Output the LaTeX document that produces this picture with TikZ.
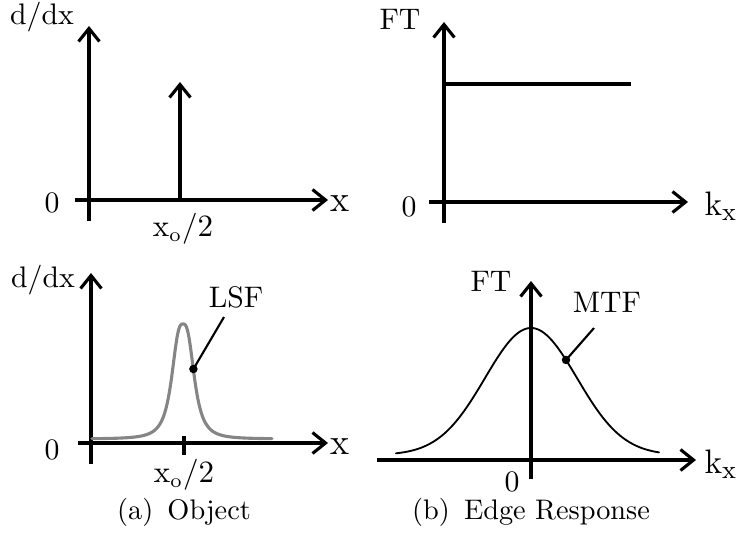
\documentclass[tikz,border=0pt]{standalone}
\usepackage{tikz}
\usetikzlibrary{arrows.meta,positioning}

\begin{document}
\begin{tikzpicture}[x=0.3533pt,y=-0.3533pt,
  font=\normalsize,
  axis/.style={line width=1.1pt,-{Straight Barb[length=4.6pt,width=7.4pt]}},
  tickline/.style={line width=1.1pt},
  lsf/.style={line width=1.1pt,black!48,line cap=round},
  mtf/.style={line width=0.65pt,line cap=round},
  leader/.style={line width=0.75pt},
  dot/.style={circle,fill,inner sep=0pt,minimum size=3pt},
  lab/.style={inner sep=1pt,font=\fontsize{10.5}{12}\selectfont},
  big/.style={inner sep=1pt,font=\fontsize{13}{15}\selectfont}]
\useasboundingbox (0,0) rectangle (738,534);
% ---------- (a) top: impulse ----------
\draw[axis] (89,221) -- (89,26);
\draw[axis] (75,200) -- (328,200);
\draw[axis] (180,200) -- (180,82);
\node[lab] (ddxA) at (42,17) {d/dx};
\node[lab] (zeroA) at (52,203) {0};
\node[big] (xA) at (340,204) {x};
\node[lab] (xoA) at (183,229) {$\mathrm{x_o/2}$};
% ---------- (b) top: flat spectrum ----------
\draw[axis] (444,223) -- (444,22);
\draw[axis] (429,202) -- (688,202);
\draw[tickline] (444,84) -- (631,84);
\node[lab] (ftB) at (400,19) {FT};
\node[lab] (zeroB) at (409,207) {0};
\node[big] (kB) at (721,206) {$\mathrm{k_x}$};
% ---------- (a) bottom: line spread function ----------
\draw[axis] (91,464) -- (91,273);
\draw[axis] (78,443) -- (328,443);
\draw[tickline] (184,436) -- (184,455);
\draw[lsf] plot[domain=92:272,samples=241,smooth]
  (\x,{439-115/(1+((abs(\x-183)+0.01)/12)^2.9)});
\coordinate (lsfpt) at (193.4,369);
\node[dot] (dotC) at (lsfpt) {};
\coordinate (tipC) at (224,317);
\draw[leader] (dotC.center) -- (tipC);
\node[lab] (lsfC) at (236,297) {LSF};
\node[lab] (ddxC) at (43,280) {d/dx};
\node[lab] (zeroC) at (52,450) {0};
\node[big] (xC) at (340,447) {x};
\node[lab] (xoC) at (184,475) {$\mathrm{x_o/2}$};
\node[inner sep=1pt] (capA) at (184,512) {(a)\enspace Object};
% ---------- (b) bottom: modulation transfer function ----------
\draw[axis] (531,479) -- (531,281);
\draw[axis] (377,460) -- (696,460);
\draw[mtf] plot[domain=396:659,samples=200,smooth]
  (\x,{455-127*exp(-((\x-531)/65)^2)});
\coordinate (mtfpt) at (566,{455-127*exp(-((566-531)/65)^2)});
\node[dot] (dotD) at (mtfpt) {};
\coordinate (tipD) at (594,328);
\draw[leader] (dotD.center) -- (tipD);
\node[lab] (mtfD) at (607,302) {MTF};
\node[lab] (ftD) at (491,281) {FT};
\node[lab] (zeroD) at (512,482) {0};
\node[big] (kD) at (721,464) {$\mathrm{k_x}$};
\node[inner sep=1pt] (capB) at (531,512) {(b)\enspace Edge Response};
\end{tikzpicture}
\end{document}
